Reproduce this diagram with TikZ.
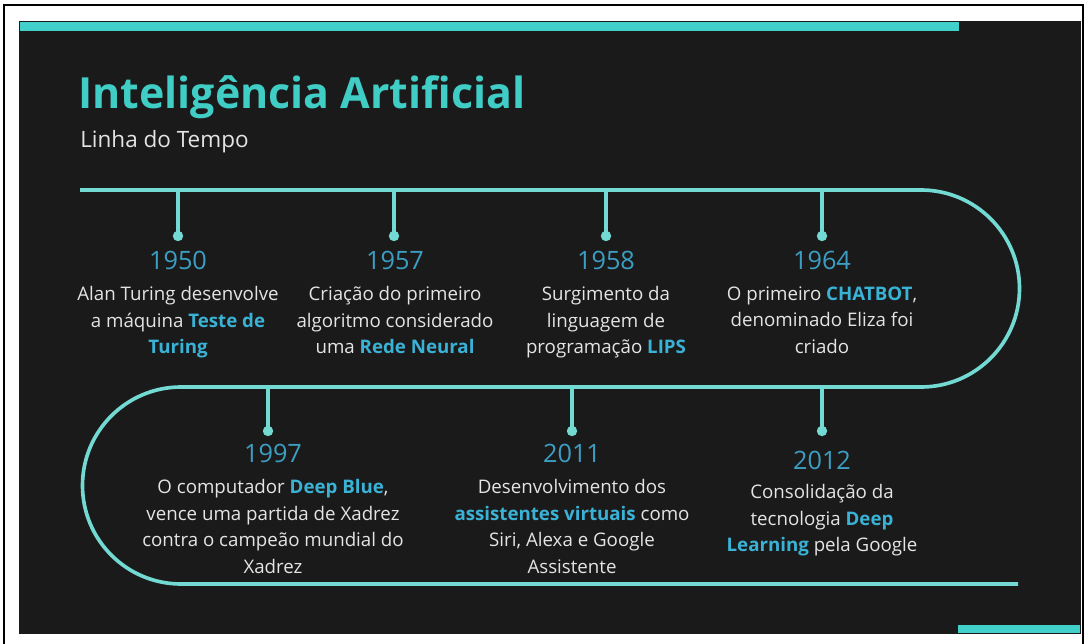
\documentclass[tikz,border=0pt]{standalone}
\usepackage{fontspec}
\setmainfont{Open Sans}
\usepackage{xcolor}
\usetikzlibrary{positioning}
\definecolor{fundo}{HTML}{1B1A1A}
\definecolor{trilho}{HTML}{72D9D3}
\definecolor{faixa}{HTML}{42D1CA}
\definecolor{titulo}{HTML}{3FCDC6}
\definecolor{corano}{HTML}{3C9EC2}
\definecolor{destaque}{HTML}{3AB2D6}
\definecolor{texto}{HTML}{E4E4E4}
\newcommand{\realce}[1]{{\bfseries\color{destaque}#1}}

\begin{document}
\begin{tikzpicture}[x=0.025cm, y=0.025cm]
    \tikzstyle{trilha}=[draw=trilho, line width=2.6pt]
    \tikzstyle{ponto}=[circle, fill=trilho, inner sep=0pt, minimum size=0.26cm]
    \tikzstyle{data}=[text=corano, inner sep=0pt, font=\fontsize{18}{20}\selectfont]
    \tikzstyle{evento}=[text=texto, inner sep=0pt, align=center, anchor=north,
    font=\fontsize{13.3}{18.9}\selectfont]

    \useasboundingbox (0,0) rectangle (1085,-644);
    \fill[white] (0,0) rectangle (1085,-644);
    \draw[black, line width=0.9pt] (4,-644) -- (4,-5) -- (1083,-5) -- (1083,-644);
    \fill[fundo] (19,-21) rectangle (1081,-634);
    \fill[faixa] (20,-22) rectangle (959,-31);
    \fill[faixa] (958,-625) rectangle (1080,-633);

    \node[anchor=base west, text=titulo, inner sep=0pt,
    font=\fontsize{30.5}{36}\selectfont\bfseries] (titulo) at (78,-109) {Inteligência Artificial};
    \node[anchor=base west, text=texto, inner sep=0pt,
    font=\fontsize{16}{19}\selectfont] (subtitulo) at (80,-147) {Linha do Tempo};

    % trilha
    \coordinate (inicio) at (80,-190);
    \coordinate (fim) at (1018,-584);
    \draw[trilha] (inicio) -- (921,-190) arc[start angle=90, end angle=-90, radius=98.5]
    -- (181,-387) arc[start angle=90, end angle=270, radius=98.5] -- (fim);

    % linha de cima
    \coordinate (c1950) at (178,-190);
    \node[ponto] (p1950) at (178,-236) {};
    \draw[trilha] (c1950) -- (p1950.center);
    \node[data] (a1950) at (178,-260) {1950};
    \node[evento] (t1950) at (178,-286) {Alan Turing desenvolve\\ a máquina \realce{Teste de}\\ \realce{Turing}};

    \coordinate (c1957) at (394,-190);
    \node[ponto] (p1957) at (394,-236) {};
    \draw[trilha] (c1957) -- (p1957.center);
    \node[data] (a1957) at (395,-260) {1957};
    \node[evento] (t1957) at (395,-286) {Criação do primeiro\\ algoritmo considerado\\ uma \realce{Rede Neural}};

    \coordinate (c1958) at (606,-190);
    \node[ponto] (p1958) at (606,-236) {};
    \draw[trilha] (c1958) -- (p1958.center);
    \node[data] (a1958) at (606,-260) {1958};
    \node[evento] (t1958) at (606,-286) {Surgimento da\\ linguagem de\\ programação \realce{LIPS}};

    \coordinate (c1964) at (822,-190);
    \node[ponto] (p1964) at (822,-236) {};
    \draw[trilha] (c1964) -- (p1964.center);
    \node[data] (a1964) at (822,-260) {1964};
    \node[evento] (t1964) at (822,-286) {O primeiro \realce{CHATBOT},\\ denominado Eliza foi\\ criado};

    % linha de baixo
    \coordinate (c1997) at (268,-387);
    \node[ponto] (p1997) at (268,-431) {};
    \draw[trilha] (c1997) -- (p1997.center);
    \node[data] (a1997) at (273,-453) {1997};
    \node[evento] (t1997) at (273,-479) {O computador \realce{Deep Blue},\\ vence uma partida de Xadrez\\ contra o campeão mundial do\\ Xadrez};

    \coordinate (c2011) at (572,-387);
    \node[ponto] (p2011) at (572,-431) {};
    \draw[trilha] (c2011) -- (p2011.center);
    \node[data] (a2011) at (572,-453) {2011};
    \node[evento] (t2011) at (572,-479) {Desenvolvimento dos\\ \realce{assistentes virtuais} como\\ Siri, Alexa e Google\\ Assistente};

    \coordinate (c2012) at (822,-387);
    \node[ponto] (p2012) at (822,-431) {};
    \draw[trilha] (c2012) -- (p2012.center);
    \node[data] (a2012) at (822,-460) {2012};
    \node[evento] (t2012) at (822,-484) {Consolidação da\\ tecnologia \realce{Deep}\\ \realce{Learning} pela Google};
\end{tikzpicture}
\end{document}
